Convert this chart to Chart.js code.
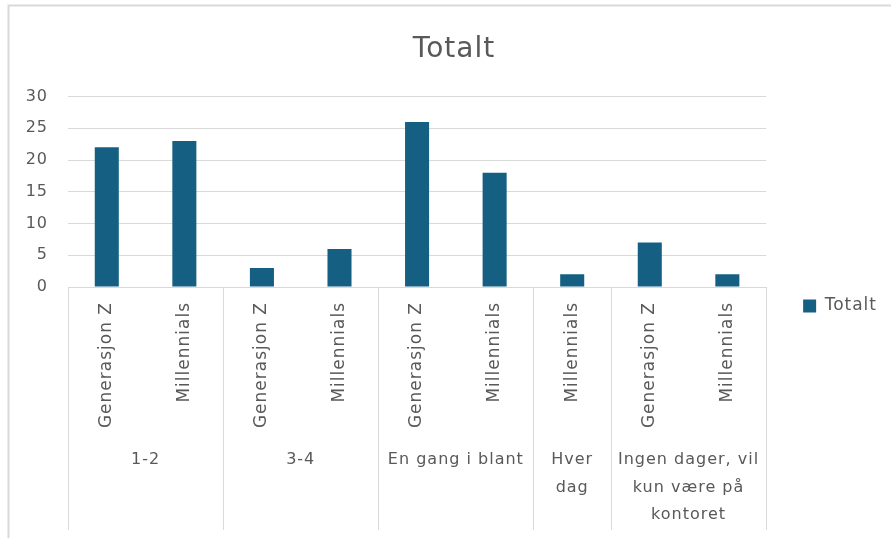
<!DOCTYPE html>
<html lang="no">
<head>
<meta charset="utf-8">
<title>Totalt</title>
<script src="https://cdn.jsdelivr.net/npm/chart.js@4"></script>
<style>
  body { margin: 0; background: #fff; }
  canvas { display: block; }
</style>
</head>
<body>
<canvas id="grafico" width="891" height="538"></canvas>
<script>
// Undergrupper langs x-aksen (roteres 90 grader)
const kategorier = ['Generasjon Z', 'Millennials', 'Generasjon Z', 'Millennials', 'Generasjon Z', 'Millennials', 'Millennials', 'Generasjon Z', 'Millennials'];
// Antall svar per stolpe
const verdier = [22, 23, 3, 6, 26, 18, 2, 7, 2];
// Hovedgrupper under aksen (ferdig brutt i linjer) og hvor mange stolper hver dekker
const grupper = [['1-2'], ['3-4'], ['En gang i blant'], ['Hver', 'dag'], ['Ingen dager, vil', 'kun være på', 'kontoret']];
const gruppeAntall = [2, 2, 2, 1, 2];
const yTicks = [0, 5, 10, 15, 20, 25, 30];

const gra = '#595959';
const linje = '#d9d9d9';
const blaa = '#156082';
const font = 'DejaVu Sans';

// Ramme, skillelinjer og gruppenavn under aksen
const oppsett = {
  id: 'oppsett',
  beforeUpdate(chart) {
    chart.ctx.letterSpacing = '1px';
  },
  beforeDraw(chart) {
    const ctx = chart.ctx;
    ctx.letterSpacing = '1px';
    ctx.save();
    ctx.strokeStyle = linje;
    ctx.lineWidth = 2;
    ctx.beginPath();
    ctx.moveTo(8.5, 538);
    ctx.lineTo(8.5, 5.5);
    ctx.lineTo(891, 5.5);
    ctx.stroke();
    ctx.restore();
  },
  afterDraw(chart) {
    const ctx = chart.ctx;
    const x = chart.scales.x;
    const bunn = chart.chartArea.bottom;
    ctx.save();
    ctx.strokeStyle = linje;
    ctx.lineWidth = 1;
    ctx.fillStyle = gra;
    ctx.font = '16px "' + font + '"';
    ctx.textAlign = 'center';
    ctx.textBaseline = 'middle';
    let start = 0;
    grupper.forEach((linjer, i) => {
      const slutt = start + gruppeAntall[i];
      const x0 = x.getPixelForValue(start - 0.5);
      const x1 = x.getPixelForValue(slutt - 0.5);
      const kanter = i === grupper.length - 1 ? [x0, x1] : [x0];
      kanter.forEach(k => {
        const px = Math.round(k) + 0.5;
        ctx.beginPath();
        ctx.moveTo(px, bunn);
        ctx.lineTo(px, bunn + 243);
        ctx.stroke();
      });
      linjer.forEach((tekst, j) => {
        ctx.fillText(tekst, (x0 + x1) / 2, bunn + 173 + j * 27.5);
      });
      start = slutt;
    });
    ctx.restore();
  }
};

new Chart(document.getElementById('grafico'), {
  type: 'bar',
  data: {
    labels: kategorier,
    datasets: [{
      label: 'Totalt',
      data: verdier,
      backgroundColor: blaa,
      categoryPercentage: 1,
      barPercentage: 0.31
    }]
  },
  options: {
    responsive: false,
    animation: false,
    devicePixelRatio: 1,
    layout: { padding: { left: 21, right: 4, top: 10, bottom: 0 } },
    plugins: {
      title: {
        display: true,
        text: 'Totalt',
        color: gra,
        font: { family: font, size: 28, weight: 'normal' },
        padding: { top: 23, bottom: 30 }
      },
      legend: {
        position: 'right',
        // tom tittel skyver forklaringen ned mot midten av diagrammet
        title: { display: true, text: '', font: { size: 14, lineHeight: 1 }, padding: { top: 50, bottom: 0 } },
        labels: {
          boxWidth: 13,
          boxHeight: 13,
          padding: 37,
          color: gra,
          font: { family: font, size: 17 }
        }
      },
      tooltip: { enabled: false }
    },
    scales: {
      x: {
        grid: { display: false },
        border: { color: linje },
        ticks: {
          color: gra,
          font: { family: font, size: 17 },
          minRotation: 90,
          maxRotation: 90,
          autoSkip: false,
          padding: 7
        },
        afterFit(s) { s.height = 251; }
      },
      y: {
        min: 0,
        max: 30,
        afterBuildTicks(s) { s.ticks = yTicks.map(v => ({ value: v })); },
        ticks: { color: gra, font: { family: font, size: 16 }, padding: 20 },
        grid: { color: linje, drawTicks: false },
        border: { display: false },
        afterFit(s) { s.width = 47; }
      }
    }
  },
  plugins: [oppsett]
});
</script>
</body>
</html>
